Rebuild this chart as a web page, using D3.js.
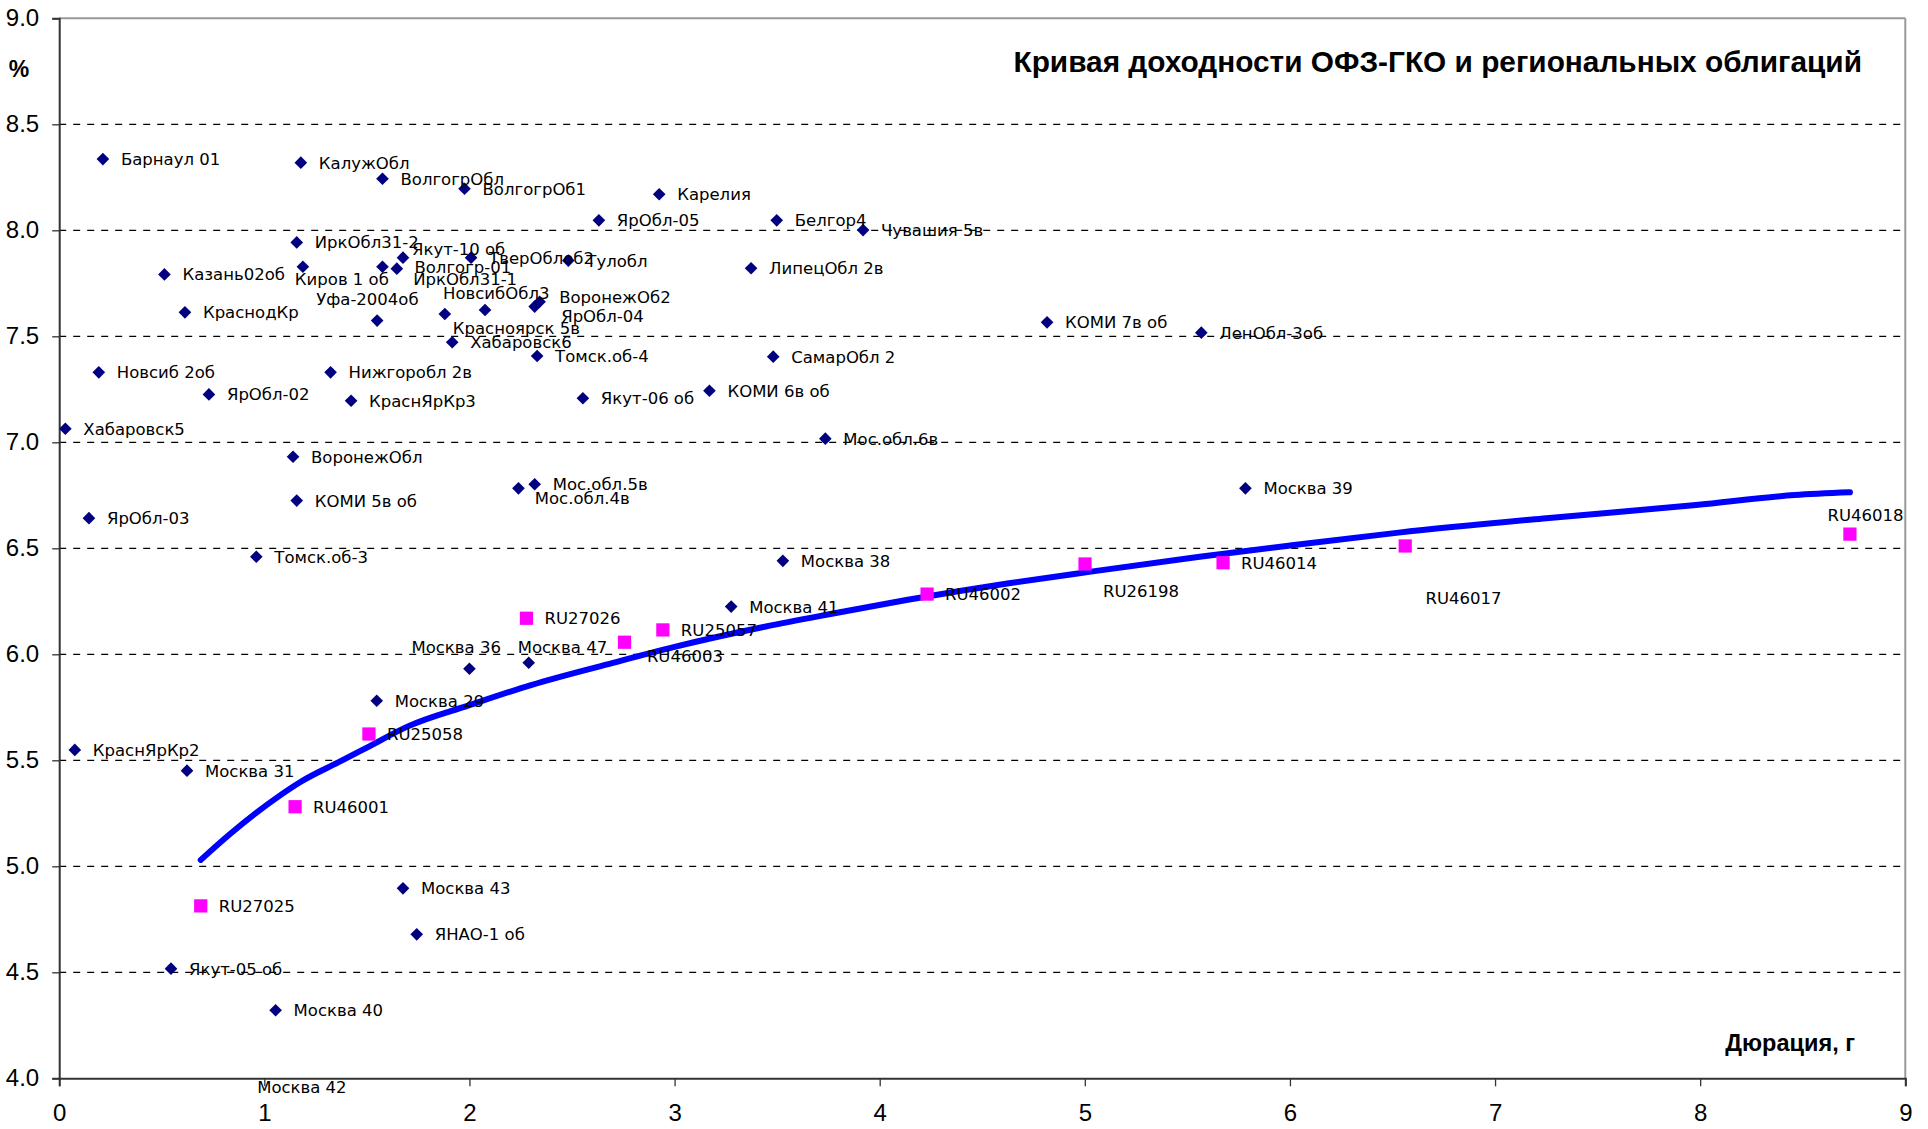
<!DOCTYPE html>
<html>
<head>
<meta charset="utf-8">
<script src="https://cdn.jsdelivr.net/npm/d3@7"></script>
<style>
  body { margin: 0; background: #fff; }
  .lbl { font-family: "DejaVu Sans", Verdana, sans-serif; font-size: 16.5px; fill: #000; }
  .tick text { font-family: "Liberation Sans", Arial, sans-serif; font-size: 24px; fill: #000; }
</style>
</head>
<body>
<div id="chart"></div>
<script>
// Regional bonds (duration, yield)
var regNames = ["Барнаул 01", "КалужОбл", "ВолгогрОбл", "ВолгогрОб1", "Карелия", "ЯрОбл-05", "Белгор4", "Чувашия 5в",
  "ИркОбл31-2", "Якут-10 об", "ТверОблоб2", "Тулобл", "Киров 1 об", "ИркОбл31-1", "Волгогр-01", "ЛипецОбл 2в",
  "Казань02об", "ВоронежОб2", "ЯрОбл-04", "НовсибОбл3", "КраснодКр", "Красноярск 5в", "Уфа-2004об", "КОМИ 7в об",
  "ЛенОбл-3об", "Хабаровск6", "Томск.об-4", "СамарОбл 2", "Новсиб 2об", "Нижгоробл 2в", "КОМИ 6в об", "ЯрОбл-02",
  "Якут-06 об", "КраснЯрКр3", "Хабаровск5", "Мос.обл.6в", "ВоронежОбл", "Мос.обл.5в", "Мос.обл.4в", "Москва 39",
  "КОМИ 5в об", "ЯрОбл-03", "Томск.об-3", "Москва 38", "Москва 41", "Москва 47", "Москва 36", "Москва 29",
  "КраснЯрКр2", "Москва 31", "Москва 43", "ЯНАО-1 об", "Якут-05 об", "Москва 40", "Москва 42"];
var regDur = [0.213, 1.178, 1.576, 1.976, 2.925, 2.631, 3.498, 3.919,
  1.158, 1.676, 2.008, 2.482, 1.188, 1.576, 1.646, 3.373,
  0.513, 2.342, 2.318, 2.076, 0.613, 1.880, 1.550, 4.816,
  5.568, 1.916, 2.330, 3.481, 0.193, 1.323, 3.170, 0.730,
  2.553, 1.423, 0.030, 3.735, 1.140, 2.318, 2.239, 5.783,
  1.158, 0.145, 0.961, 3.528, 3.276, 2.289, 2.000, 1.548,
  0.076, 0.623, 1.676, 1.743, 0.545, 1.055, 0.970];
var regYield = [8.336, 8.319, 8.243, 8.196, 8.170, 8.047, 8.047, 8.001,
  7.943, 7.871, 7.871, 7.857, 7.828, 7.828, 7.819, 7.821,
  7.792, 7.663, 7.640, 7.624, 7.613, 7.605, 7.574, 7.566,
  7.517, 7.472, 7.407, 7.404, 7.330, 7.330, 7.243, 7.226,
  7.208, 7.196, 7.064, 7.017, 6.932, 6.802, 6.783, 6.783,
  6.725, 6.642, 6.460, 6.441, 6.225, 5.960, 5.932, 5.781,
  5.549, 5.451, 4.896, 4.679, 4.517, 4.321, 3.950];

// OFZ-GKO bonds
var ofzNames = ["RU27025", "RU46001", "RU25058", "RU27026", "RU46003", "RU25057", "RU46002", "RU26198", "RU46014", "RU46017", "RU46018"];
var ofzDur = [0.690, 1.150, 1.510, 2.278, 2.756, 2.943, 4.231, 5.001, 5.674, 6.562, 8.730];
var ofzYield = [4.813, 5.281, 5.624, 6.170, 6.057, 6.115, 6.284, 6.426, 6.432, 6.511, 6.567];

// Yield curve
var curveDur = [0.69, 0.83, 1.07, 1.18, 1.36, 1.50, 1.70, 2.00, 2.30, 2.70, 3.00, 3.44, 3.76, 4.13, 4.63, 5.03, 5.56, 6.00, 6.53, 7.25, 7.98, 8.46, 8.73];
var curveYield = [5.03, 5.15, 5.33, 5.40, 5.49, 5.56, 5.66, 5.76, 5.855, 5.96, 6.035, 6.13, 6.19, 6.256, 6.335, 6.39, 6.46, 6.513, 6.574, 6.642, 6.704, 6.751, 6.764];

var xTicks = [0, 1, 2, 3, 4, 5, 6, 7, 8, 9];
var yTicks = [4.0, 4.5, 5.0, 5.5, 6.0, 6.5, 7.0, 7.5, 8.0, 8.5, 9.0];

// label placement relative to marker (default: right of marker)
var labelShift = {
  "Киров 1 об": [-8, 12.7], "Якут-10 об": [9, -8.3], "Волгогр-01": [17.6, -2], "ИркОбл31-1": [30.7, 12],
  "Уфа-2004об": [-61, -21.7], "НовсибОбл3": [-42, -16.7], "Красноярск 5в": [8, 13.7], "ВоронежОб2": [19.6, -5],
  "ЯрОбл-04": [26.5, 9.3], "Мос.обл.4в": [16.3, 10], "Москва 36": [-58, -22], "Москва 47": [-11, -16],
  "RU46003": [22.4, 14.3], "RU26198": [18, 26.7], "RU46017": [20.3, 52.3], "RU46018": [-22.4, -19],
  "Москва 42": [-1, -2.2]
};

var svgWidth = 1928;
var svgHeight = 1129;
var margin = { top: 18.3, right: 22.7, bottom: 50.7, left: 59.2 };
var width = svgWidth - margin.left - margin.right;
var height = svgHeight - margin.top - margin.bottom;

var svg = d3.select("#chart").append("svg")
  .attr("width", svgWidth)
  .attr("height", svgHeight);

var chartGroup = svg.append("g")
  .attr("transform", `translate(${margin.left}, ${margin.top})`);

var xScale = d3.scaleLinear().domain([0, 9]).range([0, width]);
var yScale = d3.scaleLinear().domain([4, 9]).range([height, 0]);

chartGroup.append("clipPath").attr("id", "plotClip")
  .append("rect").attr("width", width).attr("height", height);

// dashed gridlines
chartGroup.selectAll(".grid")
  .data(yTicks.filter(d => d > 4 && d < 9))
  .enter().append("line")
  .attr("x1", 0).attr("x2", width)
  .attr("y1", d => yScale(d)).attr("y2", d => yScale(d))
  .attr("stroke", "#000").attr("stroke-width", 1.2)
  .attr("stroke-dasharray", "7,7");

// top and right frame
chartGroup.append("line").attr("x1", 0).attr("x2", width).attr("y1", 0).attr("y2", 0)
  .attr("stroke", "#999").attr("stroke-width", 2);
chartGroup.append("line").attr("x1", width).attr("x2", width).attr("y1", 0).attr("y2", height)
  .attr("stroke", "#999").attr("stroke-width", 2);

// axes
var bottomAxis = d3.axisBottom(xScale).tickValues(xTicks).tickFormat(d3.format("d")).tickSize(8).tickPadding(18);
var leftAxis = d3.axisLeft(yScale).tickValues(yTicks).tickFormat(d3.format(".1f")).tickSize(7).tickPadding(13);

var xAxisG = chartGroup.append("g").attr("transform", `translate(0, ${height})`).call(bottomAxis);
var yAxisG = chartGroup.append("g").call(leftAxis);
[xAxisG, yAxisG].forEach(function(g) {
  g.select(".domain").attr("stroke", "#333").attr("stroke-width", 2);
  g.selectAll(".tick line").attr("stroke", "#333").attr("stroke-width", 1.3);
});

// yield curve
var curveData = curveDur.map((d, i) => ({ x: d, y: curveYield[i] }));
chartGroup.append("path")
  .datum(curveData)
  .attr("fill", "none")
  .attr("stroke", "#0000FF")
  .attr("stroke-width", 6)
  .attr("stroke-linecap", "round")
  .attr("stroke-linejoin", "round")
  .attr("d", d3.line().x(d => xScale(d.x)).y(d => yScale(d.y)).curve(d3.curveMonotoneX));

// regional bonds
var regData = regNames.map((n, i) => ({ name: n, x: regDur[i], y: regYield[i] }));
var ofzData = ofzNames.map((n, i) => ({ name: n, x: ofzDur[i], y: ofzYield[i] }));

var markGroup = chartGroup.append("g").attr("clip-path", "url(#plotClip)");

markGroup.selectAll(".reg")
  .data(regData)
  .enter().append("path")
  .attr("d", d3.symbol().type(d3.symbolSquare).size(80))
  .attr("transform", d => `translate(${xScale(d.x)}, ${yScale(d.y)}) rotate(45)`)
  .attr("fill", "#000080");

markGroup.selectAll(".ofz")
  .data(ofzData)
  .enter().append("path")
  .attr("d", d3.symbol().type(d3.symbolSquare).size(175))
  .attr("transform", d => `translate(${xScale(d.x)}, ${yScale(d.y)})`)
  .attr("fill", "#FF00FF");

// data labels
chartGroup.selectAll(".lbl")
  .data(regData.concat(ofzData))
  .enter().append("text")
  .attr("class", "lbl")
  .attr("x", d => xScale(d.x) + (labelShift[d.name] ? labelShift[d.name][0] : 18))
  .attr("y", d => yScale(d.y) + (labelShift[d.name] ? labelShift[d.name][1] : 0))
  .attr("dy", "0.36em")
  .text(d => d.name);

// titles
svg.append("text")
  .attr("x", 1862).attr("y", 61.7).attr("dy", "0.36em")
  .attr("text-anchor", "end")
  .style("font-family", "Liberation Sans, Arial, sans-serif")
  .style("font-weight", "bold").style("font-size", "29.8px")
  .text("Кривая доходности ОФЗ-ГКО и региональных облигаций");

svg.append("text")
  .attr("x", 1855).attr("y", 1043).attr("dy", "0.36em")
  .attr("text-anchor", "end")
  .style("font-family", "Liberation Sans, Arial, sans-serif")
  .style("font-weight", "bold").style("font-size", "23.5px")
  .text("Дюрация, г");

svg.append("text")
  .attr("x", 19).attr("y", 69).attr("dy", "0.36em")
  .attr("text-anchor", "middle")
  .style("font-family", "Liberation Sans, Arial, sans-serif")
  .style("font-weight", "bold").style("font-size", "23px")
  .text("%");
</script>
</body>
</html>
